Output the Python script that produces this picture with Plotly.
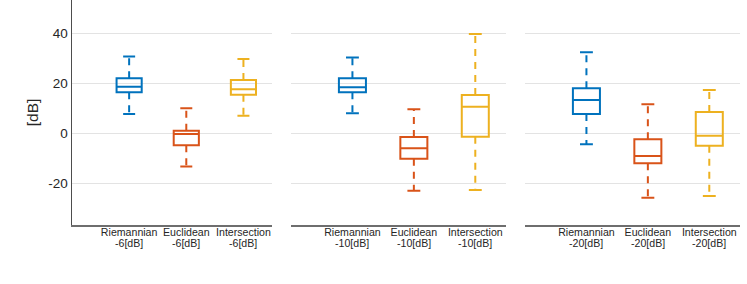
import plotly.graph_objects as go

# ---- data ----
methods = ["Riemannian", "Euclidean", "Intersection"]
snr_labels = ["-6[dB]", "-10[dB]", "-20[dB]"]
colors = ["#0072BD", "#D95319", "#EDB120"]

# per panel (SNR) -> per method: lower whisker, q1, median, q3, upper whisker
lower_6 = [7.7, -13.3, 7.0]
q1_6 = [16.4, -4.8, 15.4]
med_6 = [18.6, -0.3, 17.6]
q3_6 = [22.0, 1.0, 21.3]
upper_6 = [30.7, 10.0, 29.7]

lower_10 = [8.0, -23.0, -22.7]
q1_10 = [16.4, -10.2, -1.4]
med_10 = [18.4, -6.0, 10.6]
q3_10 = [22.0, -1.5, 15.3]
upper_10 = [30.3, 9.6, 39.7]

lower_20 = [-4.4, -25.8, -25.1]
q1_20 = [7.7, -12.0, -5.0]
med_20 = [13.3, -9.1, -1.0]
q3_20 = [18.0, -2.4, 8.5]
upper_20 = [32.4, 11.6, 17.3]

y_ticks = [-20, 0, 20, 40]
y_ticktext = ["-20", "0", "20", "40"]

panels = [
    (lower_6, q1_6, med_6, q3_6, upper_6),
    (lower_10, q1_10, med_10, q3_10, upper_10),
    (lower_20, q1_20, med_20, q3_20, upper_20),
]

W, H = 747, 284
x_domains = [(72 / W, 272 / W), (291 / W, 506 / W), (525 / W, 740 / W)]
y_domain = (1 - 225 / H, 1.0)
YRANGE = [-36.7, 53.3]
TXT = "#262626"

fig = go.Figure()
positions = [1, 2, 3]
cap_half = 0.105

for p, (lo, q1, md, q3, up) in enumerate(panels):
    xa = "x" if p == 0 else f"x{p+1}"
    ya = "y" if p == 0 else f"y{p+1}"
    for j in range(3):
        pos = positions[j]
        c = colors[j]
        # dashed whiskers
        fig.add_trace(go.Scatter(
            x=[pos, pos, None, pos, pos],
            y=[q3[j], up[j], None, q1[j], lo[j]],
            mode="lines", line=dict(color=c, width=2, dash="7px,6px"),
            xaxis=xa, yaxis=ya, showlegend=False, hoverinfo="skip"))
        # caps
        fig.add_trace(go.Scatter(
            x=[pos - cap_half, pos + cap_half, None, pos - cap_half, pos + cap_half],
            y=[up[j], up[j], None, lo[j], lo[j]],
            mode="lines", line=dict(color=c, width=2),
            xaxis=xa, yaxis=ya, showlegend=False, hoverinfo="skip"))
        # box
        fig.add_trace(go.Box(
            x=[pos], q1=[q1[j]], median=[md[j]], q3=[q3[j]],
            lowerfence=[q1[j]], upperfence=[q3[j]],
            width=0.44, whiskerwidth=0,
            line=dict(color=c, width=2), fillcolor="rgba(255,255,255,0)",
            boxpoints=False, xaxis=xa, yaxis=ya, showlegend=False,
            hoverinfo="skip"))
        # second line of the category label
        fig.add_annotation(
            x=pos, xref=xa, y=(H - 235.5) / H, yref="paper",
            yanchor="top", xanchor="center", showarrow=False,
            text=snr_labels[p], font=dict(size=10.6, color=TXT),
            borderpad=0)

layout = dict(
    width=W, height=H,
    margin=dict(l=0, r=0, t=0, b=0),
    paper_bgcolor="white", plot_bgcolor="white",
    font=dict(family="Liberation Sans, Arial, sans-serif", color=TXT),
    showlegend=False,
)
for p in range(3):
    xk = "xaxis" if p == 0 else f"xaxis{p+1}"
    yk = "yaxis" if p == 0 else f"yaxis{p+1}"
    ya = "y" if p == 0 else f"y{p+1}"
    xa = "x" if p == 0 else f"x{p+1}"
    layout[xk] = dict(
        domain=list(x_domains[p]), anchor=ya, range=[0, 3.5],
        tickvals=positions, ticktext=methods,
        tickfont=dict(size=10.6, color=TXT),
        showgrid=False, zeroline=False, showline=True,
        linecolor="#6e6e6e", linewidth=1.5, ticks="", fixedrange=True,
        ticklabelstandoff=-3, automargin=False,
    )
    layout[yk] = dict(
        domain=list(y_domain), anchor=xa, range=YRANGE,
        tickvals=y_ticks, ticktext=y_ticktext,
        showgrid=True, gridcolor="#e3e3e3", gridwidth=1,
        zeroline=False, fixedrange=True,
        showticklabels=(p == 0), showline=(p == 0),
        linecolor="#4d4d4d", linewidth=1.5,
        ticks="", tickfont=dict(size=13.5, color=TXT),
    )
    if p == 0:
        layout[yk]["title"] = dict(text="[dB]", font=dict(size=15.5, color=TXT), standoff=6)

fig.update_layout(**layout)
fig.write_html("out.html", config={"displayModeBar": False, "staticPlot": True})

# remove the browser's default 8px body margin so the figure sits at (0, 0)
with open("out.html", "r", encoding="utf-8") as f:
    html = f.read()
html = html.replace("<body>", '<body style="margin:0;padding:0;">', 1)
with open("out.html", "w", encoding="utf-8") as f:
    f.write(html)
